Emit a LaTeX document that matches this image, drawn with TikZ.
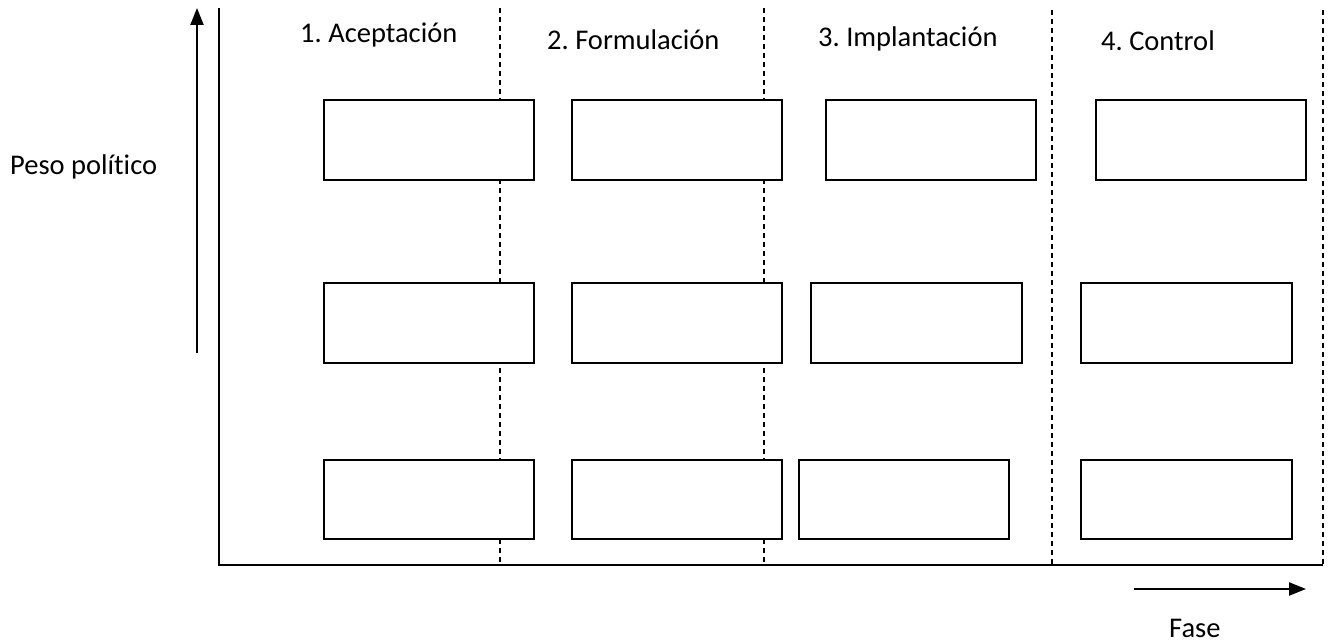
\documentclass[tikz,border=0pt]{standalone}
\usepackage{fontspec}
\setmainfont[Ligatures=NoCommon]{Carlito}
\usetikzlibrary{arrows.meta}
\frenchspacing
\begin{document}
\begin{tikzpicture}[x=1pt,y=-1pt,
  emptybox/.style={draw,line width=2pt},
  axisline/.style={line width=2pt},
  sepline/.style={line width=1.6pt,dash pattern=on 5pt off 4pt},
  arrowline/.style={line width=2.2pt,-{Triangle[length=17pt,width=13pt]}},
  lbl/.style={anchor=base west,inner sep=0pt,font=\fontsize{28.5}{34}\selectfont}]
\useasboundingbox (0,0) rectangle (1333,644);
% axes
\coordinate (ytop) at (219,8);
\coordinate (origin) at (219,565);
\coordinate (xend) at (1323,565);
\draw[axisline] (ytop) -- (origin) -- (xend);
% phase separators
\foreach \x/\t in {500/8,764/8,1052/10,1323/10}
  \draw[sepline] (\x,\t) -- (\x,565);
% arrows
\coordinate (ua0) at (197,353);
\coordinate (ua1) at (197,8);
\draw[arrowline] (ua0) -- (ua1);
\coordinate (ra0) at (1134,589);
\coordinate (ra1) at (1306,589);
\draw[arrowline] (ra0) -- (ra1);
% labels
\node[lbl] (peso) at (10,175) {Peso político};
\node[lbl] (fase) at (1169,637) {Fase};
\node[lbl] (p1) at (300,43) {1. Aceptación};
\node[lbl] (p2) at (547,50) {2. Formulación};
\node[lbl] (p3) at (818,47) {3. Implantación};
\node[lbl] (p4) at (1101,51) {4. Control};
% boxes
\draw[emptybox,fill=white] (324,100) rectangle (534,180);
\draw[emptybox,fill=white] (572,100) rectangle (782,180);
\draw[emptybox,fill=white] (826,100) rectangle (1036,180);
\draw[emptybox,fill=white] (1096,100) rectangle (1306,180);
\draw[emptybox,fill=white] (324,283) rectangle (534,363);
\draw[emptybox,fill=white] (572,283) rectangle (782,363);
\draw[emptybox,fill=white] (811,283) rectangle (1022,363);
\draw[emptybox,fill=white] (1081,283) rectangle (1292,363);
\draw[emptybox,fill=white] (324,460) rectangle (534,539);
\draw[emptybox,fill=white] (572,460) rectangle (782,539);
\draw[emptybox,fill=white] (799,460) rectangle (1009,539);
\draw[emptybox,fill=white] (1081,460) rectangle (1292,539);
\end{tikzpicture}
\end{document}
